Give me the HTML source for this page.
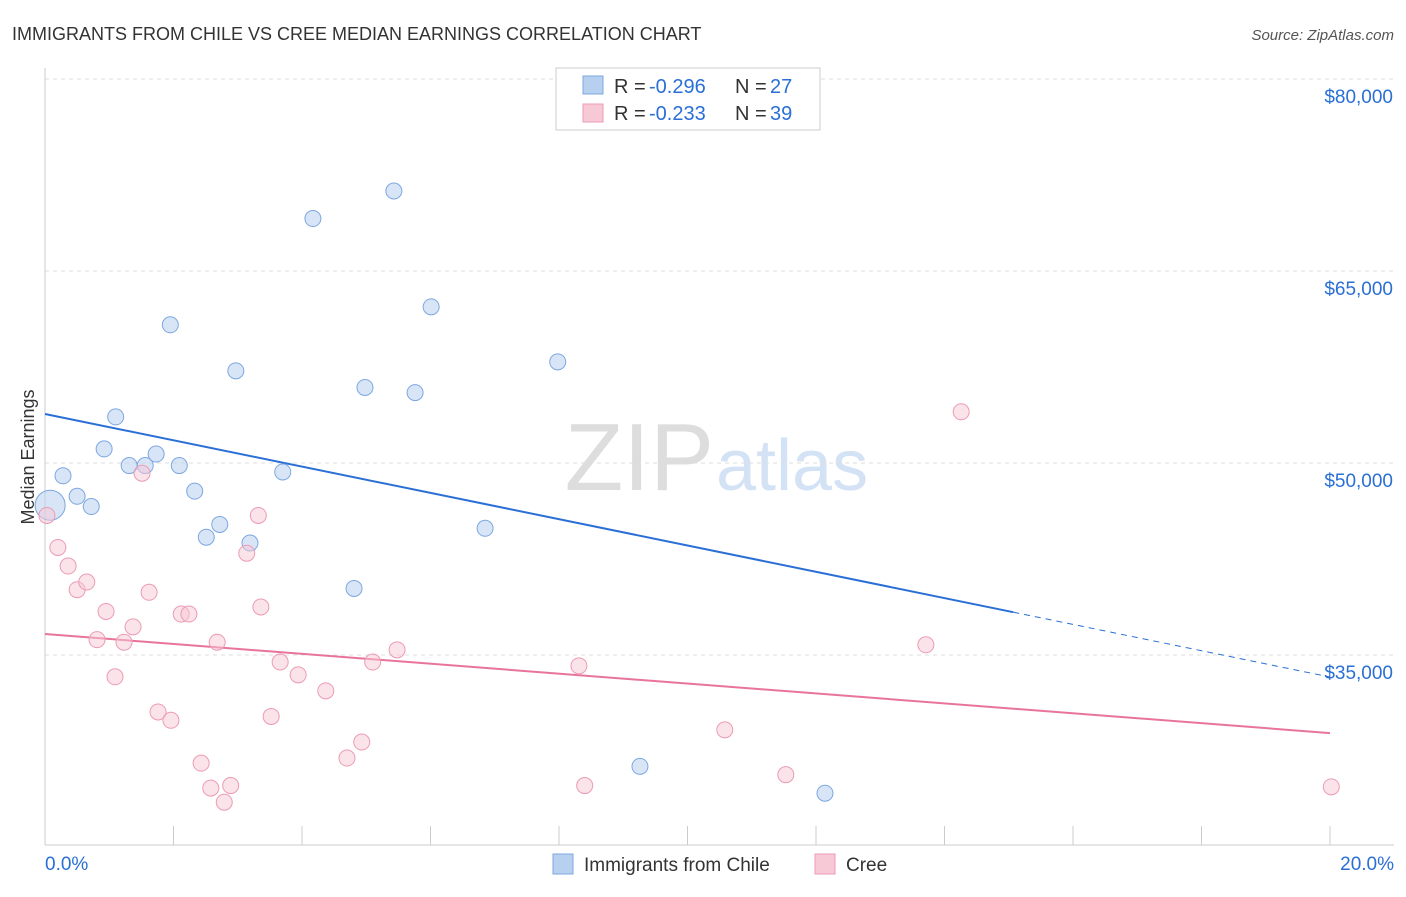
<!DOCTYPE html>
<html><head><meta charset="utf-8"><style>
body{margin:0;background:#fff;font-family:"Liberation Sans",sans-serif}
svg text{font-family:"Liberation Sans",sans-serif}
</style></head><body>
<svg id="chart" width="1406" height="892">
<text x="12" y="40" font-size="18" fill="#333" font-weight="300">IMMIGRANTS FROM CHILE VS CREE MEDIAN EARNINGS CORRELATION CHART</text>
<text x="1394" y="40" font-size="15" fill="#555" text-anchor="end" font-style="italic">Source: ZipAtlas.com</text>
<text x="34" y="457" font-size="18" fill="#333" text-anchor="middle" transform="rotate(-90 34 457)">Median Earnings</text>
<text x="714" y="490" font-size="96" fill="#ddd" text-anchor="end" font-family="Liberation Serif">ZIP</text>
<text x="716" y="490" font-size="72" fill="#d3e2f5">atlas</text>
<g id="grid"></g><g id="axes"></g><g id="lines"></g><g id="pts"></g>
<g>
<rect x="556" y="68" width="264" height="62" fill="#fff" stroke="#ccc"/>
<rect x="583" y="76" width="20" height="18" fill="#b8d0f0" stroke="#7da7e0"/>
<text x="614" y="93" font-size="20" fill="#333">R =</text>
<text x="649" y="93" font-size="20" fill="#2a6fd6">-0.296</text>
<text x="735" y="93" font-size="20" fill="#333">N =</text>
<text x="770" y="93" font-size="20" fill="#2a6fd6">27</text>
<rect x="583" y="104" width="20" height="18" fill="#f7c8d6" stroke="#ec9bb5"/>
<text x="614" y="120" font-size="20" fill="#333">R =</text>
<text x="649" y="120" font-size="20" fill="#2a6fd6">-0.233</text>
<text x="735" y="120" font-size="20" fill="#333">N =</text>
<text x="770" y="120" font-size="20" fill="#2a6fd6">39</text>
</g>
<g>
<rect x="553" y="854" width="20" height="20" fill="#b8d0f0" stroke="#7da7e0"/>
<text x="584" y="871" font-size="19" fill="#333">Immigrants from Chile</text>
<rect x="815" y="854" width="20" height="20" fill="#f7c8d6" stroke="#ec9bb5"/>
<text x="846" y="871" font-size="19" fill="#333">Cree</text>
</g>
</svg>
<script>
const yTicks=[80000,65000,50000,35000];
const xTickLabels=["0.0%","20.0%"];
const chileX=[0.08,0.28,0.50,0.72,0.92,1.10,1.31,1.56,1.73,1.95,2.09,2.33,2.51,2.72,2.97,3.19,3.70,4.17,4.81,4.98,5.43,5.76,6.01,6.85,7.98,9.26,12.14];
const chileY=[46700,49000,47400,46600,51100,53600,49800,49800,50700,60800,49800,47800,44200,45200,57200,43750,49300,69100,40200,55900,71250,55500,62200,44900,57900,26300,24200];
const creeX=[0.03,0.20,0.36,0.50,0.65,0.81,0.95,1.09,1.23,1.37,1.51,1.62,1.76,1.96,2.12,2.24,2.43,2.58,2.68,2.79,2.89,3.14,3.32,3.36,3.52,3.66,3.94,4.37,4.70,4.93,5.10,5.48,8.31,8.40,10.58,11.53,13.71,14.26,20.02];
const creeY=[45900,43400,41950,40100,40700,36200,38400,33300,36000,37200,49200,39900,30550,29900,38200,38200,26550,24600,36000,23500,24800,42950,45900,38750,30200,34450,33450,32200,26950,28200,34450,35400,34150,24800,29150,25650,35800,54000,24700];
const chileTrend=[53830,33280];
const creeTrend=[36640,28900];
const ns="http://www.w3.org/2000/svg";
const X=v=>45+v/20*1285;
const Y=v=>79+(80000-v)/1000*12.8;
function mk(t,a,p){const e=document.createElementNS(ns,t);for(const k in a)e.setAttribute(k,a[k]);p.appendChild(e);return e;}
const grid=document.getElementById('grid'),axes=document.getElementById('axes'),lines=document.getElementById('lines'),pts=document.getElementById('pts');
yTicks.forEach(v=>{
const l=mk('line',{x1:45,x2:1394,y1:Y(v),y2:Y(v),stroke:'#ddd','stroke-dasharray':'4 4'},grid);


const t=mk('text',{x:1393,y:Y(v)+24,'font-size':19,fill:'#2a6fd6','text-anchor':'end'},grid);
t.textContent='$'+v.toLocaleString('en-US');


});
const ya=mk('line',{x1:45,x2:45,y1:68,y2:845,stroke:'#ccc'},axes);


const xa=mk('line',{x1:45,x2:1394,y1:845,y2:845,stroke:'#ccc'},axes);


for(let i=0;i<=10;i++){const tk=mk('line',{x1:X(i*2),x2:X(i*2),y1:826,y2:845,stroke:'#ccc'},axes);

}
[[0,'start',45],[1,'end',1394]].forEach(([i,a,x])=>{const t=mk('text',{x:x,y:870,'font-size':19,fill:'#2a6fd6','text-anchor':a},axes);t.textContent=xTickLabels[i];

});
const xs=15.07;
const b1=mk('line',{x1:X(0),y1:Y(chileTrend[0]),x2:X(xs),y2:Y(chileTrend[0]+(chileTrend[1]-chileTrend[0])*xs/20),stroke:'#2a6fd6','stroke-width':2},lines);


const b2=mk('line',{x1:X(xs),y1:Y(chileTrend[0]+(chileTrend[1]-chileTrend[0])*xs/20),x2:X(20),y2:Y(chileTrend[1]),stroke:'#2a6fd6','stroke-width':1,'stroke-dasharray':'6 5'},lines);


const p1=mk('line',{x1:X(0),y1:Y(creeTrend[0]),x2:X(20),y2:Y(creeTrend[1]),stroke:'#e8749a','stroke-width':2},lines);


chileX.forEach((x,i)=>{const c=mk('circle',{cx:X(x),cy:Y(chileY[i]),r:i==0?15:8,fill:'#b8d0f0','fill-opacity':0.55,stroke:'#7da7e0'},pts);

});
creeX.forEach((x,i)=>{const c=mk('circle',{cx:X(x),cy:Y(creeY[i]),r:8,fill:'#f7c8d6','fill-opacity':0.5,stroke:'#ec9bb5'},pts);

});
</script>
</body></html>
